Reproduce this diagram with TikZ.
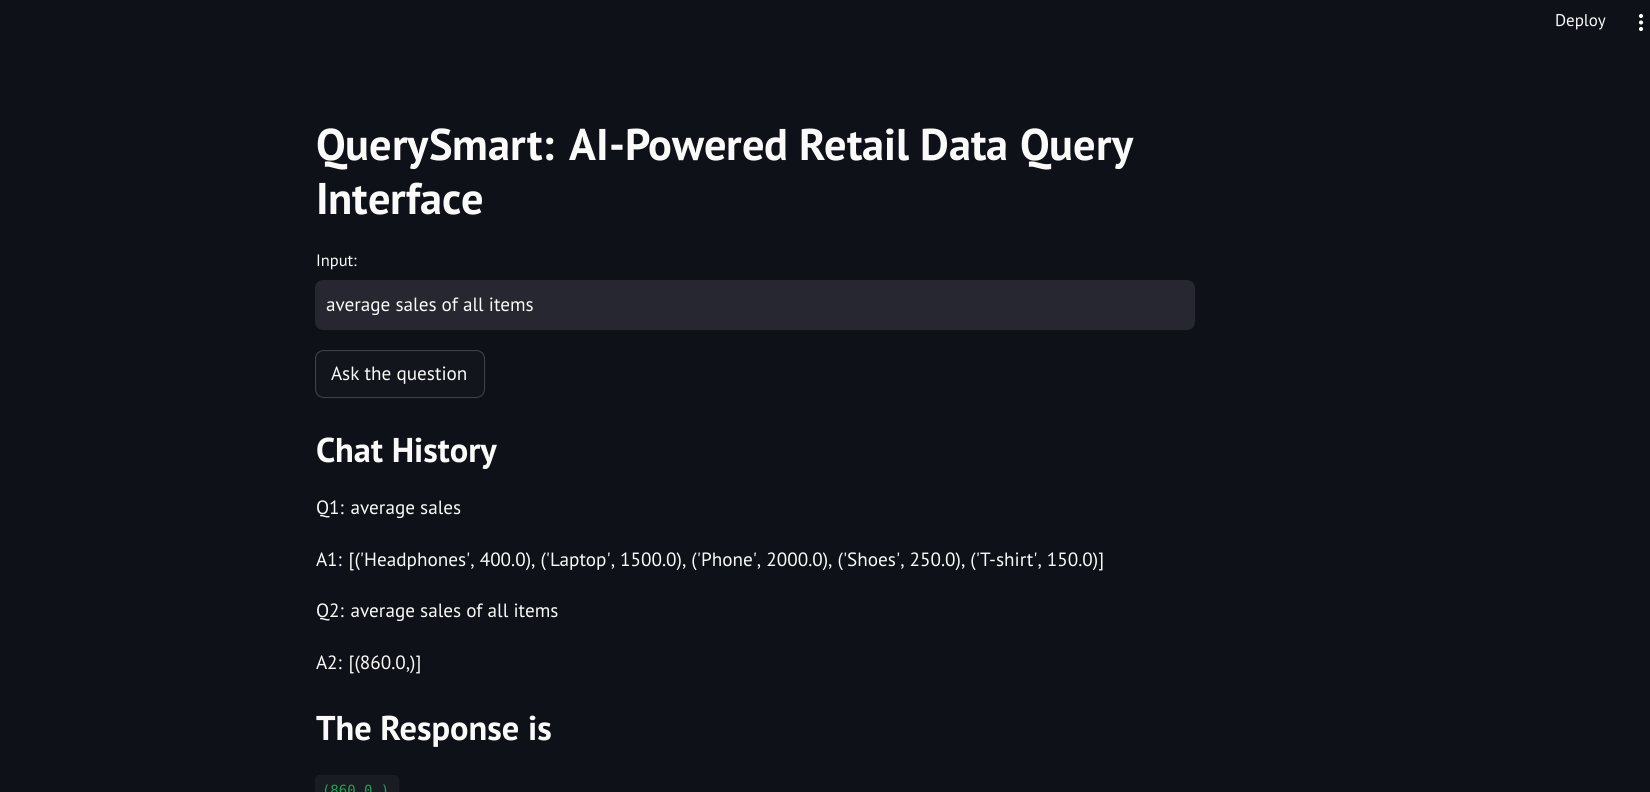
\documentclass[tikz,border=0pt]{standalone}
\usepackage{fontspec}
\setmainfont{PT Sans}
\newfontfamily\codefont{DejaVu Sans Mono}
\usetikzlibrary{positioning}

\definecolor{pagebg}{HTML}{0E1117}
\definecolor{inktext}{HTML}{FAFAFA}
\definecolor{fieldbg}{HTML}{262730}
\definecolor{btnbg}{HTML}{12151C}
\definecolor{btnline}{HTML}{3D4046}
\definecolor{codebg}{HTML}{1A1C24}
\definecolor{codeink}{HTML}{21A34A}

\newcommand{\tq}{\textquotesingle}

\begin{document}
\begin{tikzpicture}[
          x=1pt, y=-1pt,
          every node/.style={inner sep=0pt, outer sep=0pt, text=inktext}
        ]

          % styles
          \tikzstyle{heading}=[anchor=base west, font=\fontsize{44.4}{53}\selectfont\bfseries]
          \tikzstyle{subhead}=[anchor=base west, font=\fontsize{34.4}{41}\selectfont\bfseries]
          \tikzstyle{body}=[anchor=base west, font=\fontsize{19.2}{23}\selectfont]
          \tikzstyle{small}=[anchor=base west, font=\fontsize{16.5}{20}\selectfont]
          \tikzstyle{field}=[rectangle, anchor=north west, rounded corners=8pt, fill=fieldbg]
          \tikzstyle{button}=[rectangle, anchor=north west, rounded corners=8pt, fill=btnbg, draw=btnline, line width=1pt]

          % page
          \useasboundingbox (0,0) rectangle (1650,792);
          \fill[pagebg] (0,0) rectangle (1650,792);

          % top bar
          \node[small, font=\fontsize{17}{20}\selectfont] (deploy) at (1555,27) {Deploy};
          \foreach \dy in {16,22.5,29}
            \fill[inktext] (1641,\dy) circle (2.1);

          % title
          \node[heading] (title1) at (316,160) {QuerySmart: AI-Powered Retail Data Query};
          \node[heading] (title2) at (316,214) {Interface};

          % input field
          \node[small] (inlabel) at (316,266) {Input:};
          \node[field, minimum width=880pt, minimum height=50pt] (querybox) at (315,280) {};
          \node[body] (querytext) at (326,311) {average sales of all items};

          % button
          \node[button, minimum width=169pt, minimum height=47pt] (askbtn) at (315.5,350.5) {};
          \node[body] (asktext) at (331,380) {Ask the question};

          % chat history
          \node[subhead] (history) at (316,462) {Chat History};
          \node[body] (q1) at (316,514) {Q1: average sales};
          \node[body] (a1) at (316,566) {A1: [(\tq Headphones\tq, 400.0), (\tq Laptop\tq, 1500.0), (\tq Phone\tq, 2000.0), (\tq Shoes\tq, 250.0), (\tq T-shirt\tq, 150.0)]};
          \node[body] (q2) at (316,617) {Q2: average sales of all items};
          \node[body] (a2) at (316,669) {A2: [(860.0,)]};

          % response
          \node[subhead] (response) at (316,740) {The Response is};
          \fill[codebg, rounded corners=4pt] (315,775) rectangle (399,815);
          \node[anchor=base west, font=\fontsize{14}{16}\codefont, text=codeink] (code) at (322,795) {(860.0,)};

        \end{tikzpicture}
\end{document}
